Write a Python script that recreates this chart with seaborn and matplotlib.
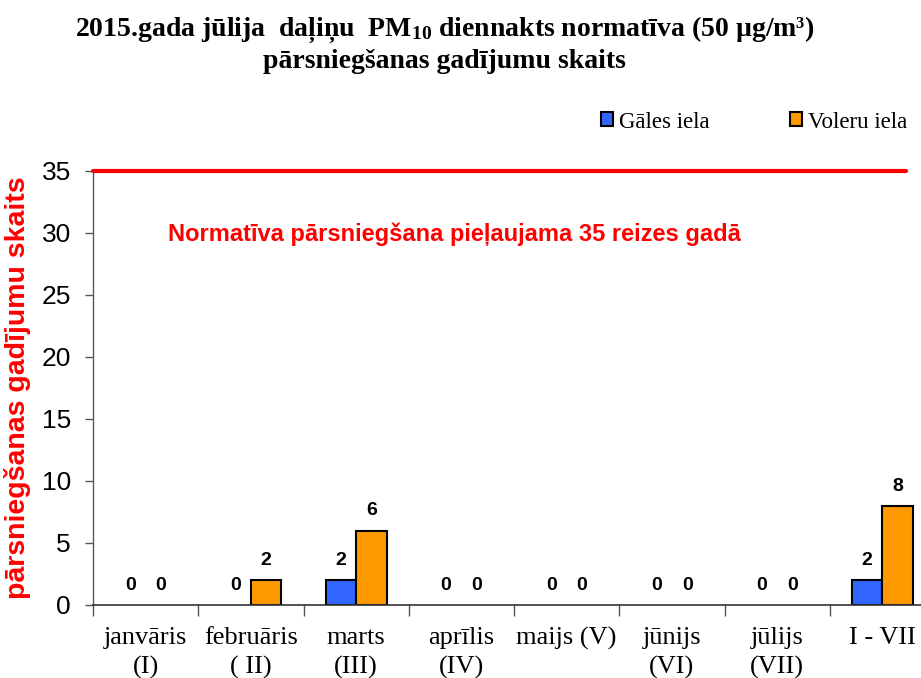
#!/usr/bin/env python
## PM10 daily limit exceedances per month, two stations, 2015 (Jan-Jul)

import pandas as pd
import matplotlib
matplotlib.use('Agg')
import matplotlib.pyplot as plt
from matplotlib.patches import Patch
import seaborn as sns

# data
months = ['janvāris\n(I)', 'februāris\n( II)', 'marts\n(III)', 'aprīlis\n(IV)',
          'maijs (V)', 'jūnijs\n(VI)', 'jūlijs\n(VII)', 'I - VII']
gales = [0, 0, 2, 0, 0, 0, 0, 2]
voleru = [0, 2, 6, 0, 0, 0, 0, 8]
stations = ['Gāles iela', 'Voleru iela']
limit = 35

df = pd.DataFrame({
    'month': months * 2,
    'station': [stations[0]] * len(months) + [stations[1]] * len(months),
    'count': gales + voleru,
})

sns.set_theme(style="white")
plt.rcParams['font.family'] = ['Liberation Sans', 'DejaVu Sans']
plt.rcParams['mathtext.fontset'] = 'custom'
plt.rcParams['mathtext.rm'] = 'Liberation Serif:bold'
plt.rcParams['mathtext.it'] = 'Liberation Serif:bold'
plt.rcParams['text.color'] = 'black'
plt.rcParams['xtick.labelcolor'] = 'black'
plt.rcParams['ytick.labelcolor'] = 'black'

colors = ['#3366FF', '#FF9900']

fig = plt.figure(figsize=(9.21, 6.78), dpi=100)
ax = fig.add_axes([93 / 921, 73 / 678, 842 / 921, 434 / 678])

sns.barplot(data=df, x='month', y='count', hue='station', palette=colors,
            saturation=1, width=0.58, edgecolor='black', linewidth=1.5, ax=ax,
            legend=False, errorbar=None)

# zero bars are not drawn in the original, only their labels
for p in ax.patches:
    if p.get_height() == 0:
        p.set_linewidth(0)

for cont in ax.containers:
    ax.bar_label(cont, fmt='%d', padding=8, fontsize=14, fontweight='bold',
                 color='black')

ax.set_ylim(0, 35)
ax.set_xlim(-0.5, len(months) - 0.5)
ax.set_yticks(range(0, 36, 5))
ax.tick_params(axis='y', labelsize=19, length=6, width=1, left=True, color='#555555',
               labelcolor='black', pad=10)
ax.set_xticks(range(len(months)))
ax.set_xticklabels(months, fontfamily='Liberation Serif', fontsize=19, linespacing=1.35)
ax.set_xticks([i - 0.5 for i in range(len(months) + 1)], minor=True)
ax.tick_params(axis='x', which='major', length=0, pad=16, labelcolor='black')
ax.tick_params(axis='x', which='minor', length=8, width=1, bottom=True, color='#555555')
ax.set_xlabel('')
ax.set_ylabel('pārsniegšanas gadījumu skaits', color='red', fontsize=20.5,
              fontweight='bold')
ax.yaxis.set_label_coords(-0.074, 0.5)

for s in ['top', 'right']:
    ax.spines[s].set_visible(False)
ax.spines['left'].set_color('#555555')
ax.spines['bottom'].set_color('#333333')
ax.spines['left'].set_linewidth(1)
ax.spines['bottom'].set_linewidth(1.2)

# limit line and note
ax.axhline(limit, xmin=0, xmax=(906 - 93) / 842, color='red', linewidth=3, clip_on=False)
ax.text(0.089, 0.855, 'Normatīva pārsniegšana pieļaujama 35 reizes gadā',
        transform=ax.transAxes, color='red', fontsize=17, fontweight='bold',
        va='center', ha='left')

# legend
handles = [Patch(facecolor=c, edgecolor='black', linewidth=1.5) for c in colors]
fig.legend(handles, stations, loc='center left', bbox_to_anchor=(580 / 921, 1 - 122 / 678),
           ncol=2, frameon=False, handlelength=0.55, handleheight=0.55, handletextpad=0.25,
           columnspacing=3.5, labelcolor='black',
           prop={'family': 'Liberation Serif', 'size': 16.5})

# title
title_font = dict(ha='center', va='center', fontfamily='Liberation Serif',
                  fontsize=20, fontweight='bold', color='black')
fig.text(0.483, 1 - 30 / 678,
         '2015.gada jūlija  daļiņu  PM$_{10}$ diennakts normatīva (50 µg/m³)',
         **title_font)
fig.text(0.483, 1 - 61 / 678, 'pārsniegšanas gadījumu skaits', **title_font)

fig.savefig('out.png', dpi=100)
